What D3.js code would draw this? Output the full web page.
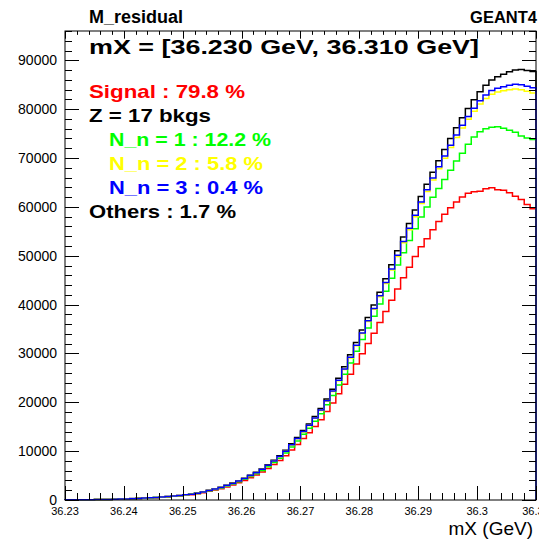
<!DOCTYPE html>
<html>
<head>
<meta charset="utf-8">
<script src="https://cdn.jsdelivr.net/npm/d3@7/dist/d3.min.js"></script>
<style>
  html, body { margin: 0; padding: 0; background: #ffffff; }
  svg { display: block; }
</style>
</head>
<body>
<script>
// Binning of the mX histogram (GeV)
const binLow = 36.230;
const binHigh = 36.310;
const nBins = 80;

// Cumulative stacks: each array already includes every component below it
const stackSignal = [36,41,50,55,64,77,91,109,137,173,
  209,255,300,355,410,473,546,637,746,819,
  956,1092,1274,1502,1775,2048,2321,2685,3094,3549,
  4004,4550,5096,5733,6461,7280,8081,9060,10215,11365,
  12600,13740,15050,16450,18110,19850,21730,23690,25730,27830,
  29930,32040,34140,36320,38580,40910,43190,45490,47650,49850,
  51850,53500,55300,57000,58500,59800,61000,62000,62800,63100,
  63200,63700,63900,63500,63400,62900,62200,61500,60500,59600];

const stackNn1 = [38,43,53,58,67,82,96,115,144,182,
  221,269,317,374,432,499,576,672,787,864,
  1008,1152,1344,1584,1872,2160,2448,2832,3264,3744,
  4224,4800,5376,6048,6816,7680,8544,9600,10848,12096,
  13440,14688,16128,17664,19488,21408,23520,25728,28032,30432,
  32832,35232,37632,40128,42720,45408,48096,50625,53100,55500,
  57950,60000,61950,63770,65610,67520,69400,71000,72800,74300,
  75400,76000,76300,76400,76100,75700,75300,74500,74100,73800];

const stackNn2 = [40,45,55,60,70,85,100,120,149,189,
  229,279,329,388,448,518,598,697,817,896,
  1046,1195,1394,1643,1942,2241,2540,2938,3386,3884,
  4382,4980,5578,6275,7072,7968,8864,9960,11255,12550,
  13944,15239,16733,18326,20219,22211,24402,26693,29083,31573,
  34063,36550,39035,41620,44300,47080,49860,52640,55320,58000,
  60680,63150,65520,67790,69960,72130,74200,76160,77920,79580,
  81040,82200,83050,83500,83750,84000,84150,84000,83650,83300];

const stackNn3 = [40,45,55,60,70,85,100,120,150,190,
  230,280,330,390,450,520,600,700,820,900,
  1050,1200,1400,1650,1950,2250,2550,2950,3400,3900,
  4400,5000,5600,6300,7100,8000,8900,10000,11300,12600,
  14000,15300,16800,18400,20300,22300,24500,26800,29200,31700,
  34200,36700,39200,41800,44500,47300,50100,52900,55600,58300,
  61000,63500,65900,68200,70400,72600,74700,76700,78500,80200,
  81700,82900,83800,84300,84600,84900,85100,85000,84700,84400];

const stackOthers = [41,46,56,61,71,86,101,122,152,193,
  233,284,335,396,457,528,609,711,833,914,
  1067,1219,1422,1676,1981,2286,2591,2998,3455,3963,
  4472,5082,5692,6404,7218,8133,9050,10168,11490,12813,
  14238,15562,17090,18720,20655,22690,24930,27270,29710,32255,
  34800,37345,39890,42540,45290,48140,51000,53850,56600,59350,
  62100,64650,67100,69460,71720,74000,76180,78260,80150,81950,
  83570,84900,85950,86650,87150,87650,88000,88100,87900,87700];

// Axis ticks
const xMajorTicks = [36.23, 36.24, 36.25, 36.26, 36.27, 36.28, 36.29, 36.30, 36.31];
const xTickLabels = ["36.23", "36.24", "36.25", "36.26", "36.27", "36.28", "36.29", "36.3", "36.31"];
const yMajorTicks = [0, 10000, 20000, 30000, 40000, 50000, 60000, 70000, 80000, 90000];
const yTickLabels = ["0", "10000", "20000", "30000", "40000", "50000", "60000", "70000", "80000", "90000"];
const yMax = 96000;

// Legend text
const legendLabels = ["Signal : 79.8 %", "Z = 17 bkgs", "N_n = 1 : 12.2 %", "N_n = 2 : 5.8 %", "N_n = 3 : 0.4 %", "Others : 1.7 %"];
const legendColors = ["#ff0000", "#000000", "#00ff00", "#ffff00", "#0000ff", "#000000"];

const W = 539, H = 544;
const frame = { left: 65, right: 536, top: 31, bottom: 500 };

const svg = d3.select("body").append("svg")
  .attr("width", W).attr("height", H)
  .attr("viewBox", `0 0 ${W} ${H}`);

svg.append("rect").attr("width", W).attr("height", H).attr("fill", "#ffffff");

const x = d3.scaleLinear().domain([binLow, binHigh]).range([frame.left, frame.right]);
const y = d3.scaleLinear().domain([0, yMax]).range([frame.bottom, frame.top]);
const binWidth = (binHigh - binLow) / nBins;

// Histogram outline: rises from zero at the first edge, steps through each bin,
// and drops back to zero at the last edge
function histPath(values) {
  const pts = [[x(binLow), y(0)]];
  values.forEach((v, i) => {
    pts.push([x(binLow + i * binWidth), y(v)]);
    pts.push([x(binLow + (i + 1) * binWidth), y(v)]);
  });
  pts.push([x(binHigh), y(0)]);
  return d3.line()(pts);
}

const series = [
  { values: stackOthers, color: "#000000" },
  { values: stackSignal, color: "#ff0000" },
  { values: stackNn1, color: "#00ff00" },
  { values: stackNn2, color: "#ffff00" },
  { values: stackNn3, color: "#0000ff" }
];

svg.append("g").selectAll("path").data(series).join("path")
  .attr("d", d => histPath(d.values))
  .attr("fill", "none")
  .attr("stroke", d => d.color)
  .attr("stroke-width", 1.5)
  .attr("stroke-linejoin", "miter");

// Frame
const axisColor = "#000000";
svg.append("rect")
  .attr("x", frame.left).attr("y", frame.top)
  .attr("width", frame.right - frame.left).attr("height", frame.bottom - frame.top)
  .attr("fill", "none").attr("stroke", axisColor).attr("stroke-width", 1);

// Tick marks (inside the frame, mirrored on the opposite sides)
const ticks = svg.append("g").attr("stroke", axisColor).attr("stroke-width", 1);
const majorLen = 14, minorLen = 7;

const xMinor = d3.range(0, 41).map(k => binLow + k * 0.002);
xMinor.forEach((v, k) => {
  const len = (k % 5 === 0) ? majorLen : minorLen;
  const px = Math.round(x(v)) + 0.5;
  ticks.append("line").attr("x1", px).attr("x2", px)
    .attr("y1", frame.bottom).attr("y2", frame.bottom - len);
  ticks.append("line").attr("x1", px).attr("x2", px)
    .attr("y1", frame.top).attr("y2", frame.top + len * 0.55);
});

const yMinor = d3.range(0, 49).map(k => k * 2000).filter(v => v <= yMax);
yMinor.forEach(v => {
  const len = (v % 10000 === 0) ? majorLen : minorLen;
  const py = Math.round(y(v)) + 0.5;
  ticks.append("line").attr("x1", frame.left).attr("x2", frame.left + len)
    .attr("y1", py).attr("y2", py);
  ticks.append("line").attr("x1", frame.right).attr("x2", frame.right - len)
    .attr("y1", py).attr("y2", py);
});

const font = "'Liberation Sans', Arial, Helvetica, sans-serif";

// Y tick labels
svg.append("g").selectAll("text").data(yMajorTicks).join("text")
  .attr("x", frame.left - 8)
  .attr("y", d => y(d))
  .attr("dy", "0.36em")
  .attr("text-anchor", "end")
  .attr("font-family", font).attr("font-size", 14)
  .attr("fill", axisColor)
  .text((d, i) => yTickLabels[i]);

// X tick labels
svg.append("g").selectAll("text").data(xMajorTicks).join("text")
  .attr("x", d => x(d))
  .attr("y", frame.bottom + 15)
  .attr("text-anchor", "middle")
  .attr("font-family", font).attr("font-size", 11)
  .attr("fill", axisColor)
  .text((d, i) => xTickLabels[i]);

// Axis title
svg.append("text")
  .attr("x", 533).attr("y", 535)
  .attr("text-anchor", "end")
  .attr("font-family", font).attr("font-size", 19)
  .attr("fill", axisColor)
  .text("mX (GeV)");

// Header texts
svg.append("text")
  .attr("x", 89).attr("y", 23)
  .attr("font-family", font).attr("font-size", 18).attr("font-weight", "bold")
  .text("M_residual");

svg.append("text")
  .attr("x", 537).attr("y", 23)
  .attr("text-anchor", "end")
  .attr("font-family", font).attr("font-size", 16.5).attr("font-weight", "bold")
  .text("GEANT4");

// Mass window caption
svg.append("text")
  .attr("x", 89).attr("y", 54)
  .attr("font-family", font).attr("font-size", 20).attr("font-weight", "bold")
  .attr("textLength", 390).attr("lengthAdjust", "spacingAndGlyphs")
  .text(`mX = [${binLow.toFixed(3)} GeV, ${binHigh.toFixed(3)} GeV]`);

// Legend block
const legendX = [89, 89, 109, 109, 109, 89];
const legendW = [156, 122, 162, 154, 154, 147];
svg.append("g").selectAll("text").data(legendLabels).join("text")
  .attr("x", (d, i) => legendX[i])
  .attr("y", (d, i) => 98 + i * 24)
  .attr("font-family", font).attr("font-size", 18.5).attr("font-weight", "bold")
  .attr("fill", (d, i) => legendColors[i])
  .attr("textLength", (d, i) => legendW[i]).attr("lengthAdjust", "spacingAndGlyphs")
  .text(d => d);
</script>
</body>
</html>
